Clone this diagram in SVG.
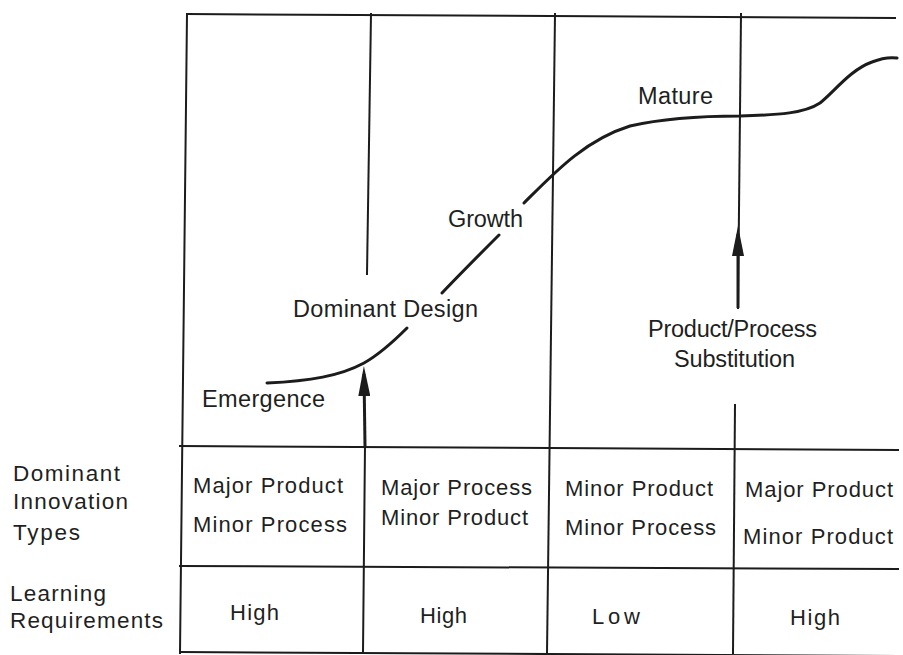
<svg xmlns="http://www.w3.org/2000/svg" width="903" height="655" viewBox="0 0 903 655">
  <style>
    .line { stroke: #1c1c1c; stroke-width: 2; fill: none; stroke-linecap: square; }
    .curve { stroke: #1c1c1c; stroke-width: 3; fill: none; stroke-linecap: round; }
    .shaft { stroke: #1c1c1c; stroke-width: 3; fill: none; }
    text { font-family: "Liberation Sans", Arial, Helvetica, sans-serif; fill: #1f1f1f; }
    .stage { font-size: 23.5px; }
    .row { font-size: 22.5px; }
    .cell { font-size: 22px; }
  </style>
  <defs>
    <marker id="arrowhead" viewBox="0 0 30 12" refX="22" refY="6" markerWidth="30" markerHeight="12" markerUnits="userSpaceOnUse" orient="auto">
      <path d="M0,0 L30,6 L0,12 Z" fill="#1c1c1c"/>
    </marker>
  </defs>

  <rect width="903" height="655" fill="#ffffff"/>

  <!-- table frame: open on the right-hand side -->
  <g id="frame">
    <path class="line" d="M187,14 L895,18"/>
    <path class="line" d="M187,14 L180,653"/>
    <path class="line" d="M180,446 L898,450"/>
    <path class="line" d="M180,566 L898,569"/>
    <path class="line" d="M180,652 L900,656"/>
    <!-- column dividers -->
    <path class="line" d="M371,14 L367,274"/>
    <path class="line" d="M365,446 L363,653"/>
    <path class="line" d="M555,14 L547,653"/>
    <path class="line" d="M741,14 L738,308"/>
    <path class="line" d="M735,405 L733,653"/>
  </g>

  <!-- S-shaped life-cycle curve, broken where the stage names sit -->
  <g id="curve">
    <path class="curve" d="M267,383 C310,381 340,376 364,363 C380,354 395,340 407,328"/>
    <path class="curve" d="M442,293 C460,274 480,254 499,235"/>
    <path class="curve" d="M524,203 C555,172 585,140 630,126 C665,118 710,116 740,116 C780,115 805,113 820,103 C835,91 850,70 872,62 C882,58 890,57 897,58"/>
  </g>

  <!-- transition arrows -->
  <g id="connectors">
    <path class="shaft" d="M365,446 L364,374" marker-end="url(#arrowhead)"/>
    <path class="shaft" d="M738,308 L738,234" marker-end="url(#arrowhead)"/>
  </g>

  <!-- stage names along the curve -->
  <g id="stage-labels">
    <text class="stage" x="202" y="407" textLength="123" lengthAdjust="spacing">Emergence</text>
    <text class="stage" x="293" y="317" textLength="185" lengthAdjust="spacing">Dominant Design</text>
    <text class="stage" x="448" y="227" textLength="75" lengthAdjust="spacing">Growth</text>
    <text class="stage" x="638" y="104" textLength="75" lengthAdjust="spacing">Mature</text>
    <text class="stage" x="648" y="337" textLength="169" lengthAdjust="spacing">Product/Process</text>
    <text class="stage" x="674" y="367" textLength="121" lengthAdjust="spacing">Substitution</text>
  </g>

  <!-- row headings -->
  <g id="row-labels">
    <text class="row" x="13" y="481" textLength="107" lengthAdjust="spacing">Dominant</text>
    <text class="row" x="13" y="509" textLength="115" lengthAdjust="spacing">Innovation</text>
    <text class="row" x="13" y="540" textLength="67" lengthAdjust="spacing">Types</text>
    <text class="row" x="10" y="601" textLength="96" lengthAdjust="spacing">Learning</text>
    <text class="row" x="10" y="628" textLength="153" lengthAdjust="spacing">Requirements</text>
  </g>

  <g id="col-emergence">
    <text class="cell" x="193" y="493" textLength="150" lengthAdjust="spacing">Major Product</text>
    <text class="cell" x="193" y="532" textLength="154" lengthAdjust="spacing">Minor Process</text>
    <text class="cell" x="230" y="620" textLength="49" lengthAdjust="spacing">High</text>
  </g>

  <g id="col-growth">
    <text class="cell" x="381" y="495" textLength="151" lengthAdjust="spacing">Major Process</text>
    <text class="cell" x="381" y="525" textLength="147" lengthAdjust="spacing">Minor Product</text>
    <text class="cell" x="420" y="623" textLength="47" lengthAdjust="spacing">High</text>
  </g>

  <g id="col-mature">
    <text class="cell" x="565" y="496" textLength="148" lengthAdjust="spacing">Minor Product</text>
    <text class="cell" x="565" y="535" textLength="151" lengthAdjust="spacing">Minor Process</text>
    <text class="cell" x="592" y="624" textLength="48" lengthAdjust="spacing">Low</text>
  </g>

  <g id="col-substitution">
    <text class="cell" x="745" y="497" textLength="148" lengthAdjust="spacing">Major Product</text>
    <text class="cell" x="743" y="544" textLength="150" lengthAdjust="spacing">Minor Product</text>
    <text class="cell" x="790" y="625" textLength="50" lengthAdjust="spacing">High</text>
  </g>
</svg>
